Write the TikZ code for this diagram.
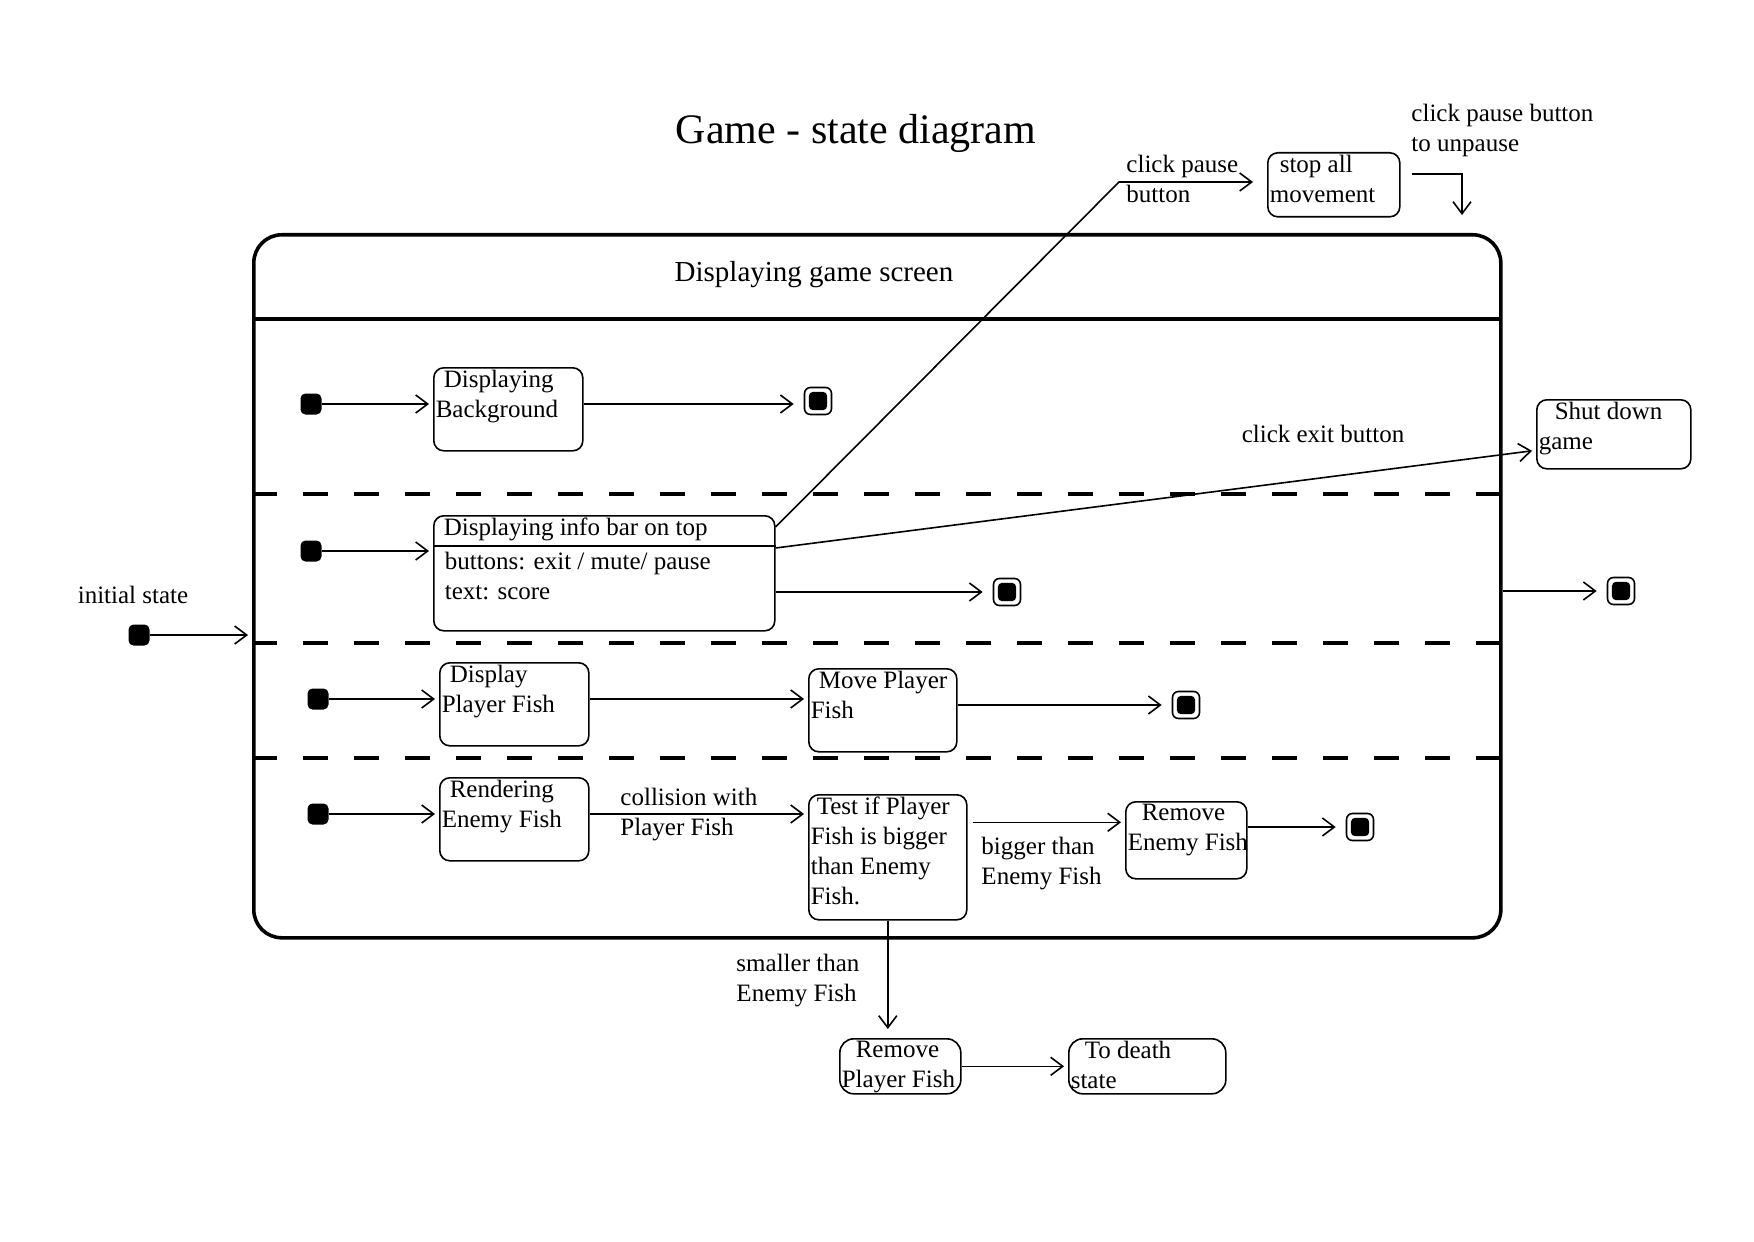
\documentclass[tikz,border=0pt]{standalone}
\usepackage{fontspec}
\setmainfont{Liberation Serif}
\usetikzlibrary{arrows.meta}

\tikzset{
  every node/.style={font=\fontsize{12.5}{15}\selectfont},
  bigbox/.style={draw,line width=1.8pt,rounded corners=14pt,anchor=north west,inner sep=0pt},
  stbox/.style={draw,rounded corners=5pt,anchor=north west,inner sep=0pt},
  sttext/.style={anchor=north west,align=left,inner sep=1pt},
  inist/.style={fill,rounded corners=2.5pt,minimum size=10.5pt,inner sep=0pt},
  finst/.style={draw,rounded corners=3pt,minimum size=13.5pt,inner sep=0pt,
    path picture={\fill[rounded corners=2pt] ([shift={(2.2pt,2.2pt)}]path picture bounding box.south west) rectangle ([shift={(-2.2pt,-2.2pt)}]path picture bounding box.north east);}},
  region/.style={line width=1.8pt,dash pattern=on 12.5pt off 13pt},
  trans/.style={->,shorten >=2pt}
}

\begin{document}
\begin{tikzpicture}[x=0.5pt,y=-0.5pt,line width=0.8pt,>={Straight Barb[length=6pt,width=9pt]}]
    \useasboundingbox (0,0) rectangle (1754,1241);

    \node[font=\fontsize{21}{25}\selectfont] (title) at (856,133) {Game - state diagram};

    % composite state
    \node[bigbox,minimum width=623.5pt,minimum height=351.5pt] (game) at (252,233) {};
    \node[font=\fontsize{14.5}{17}\selectfont] (game_lbl) at (814,275) {Displaying game screen};
    \draw[line width=1.8pt] (252,319) -- (1499,319);
    \draw[region] (252,494) -- (1499,494);
    \draw[region] (252,643) -- (1499,643);
    \draw[region] (252,758) -- (1499,758);

    \node[inist] (ini0) at (139,635) {};
    \node (ini0_lbl) at (133,595) {initial state};
    \node[finst] (fin_out) at (1621,591) {};

    % background
    \node[inist] (ini1) at (311,404) {};
    \node[stbox,minimum width=74.5pt,minimum height=41.5pt,label={[sttext]north west:{\hspace*{4pt}Displaying\\Background}}] (bg) at (433,367) {};
    \node[finst] (fin1) at (818,401) {};

    % info bar
    \node[inist] (ini2) at (311,551) {};
    \node[stbox,minimum width=170.5pt,minimum height=57.5pt,label={[sttext]north west:{\hspace*{4pt}Displaying info bar on top}}] (info) at (433,515) {};
    \draw ([yshift=-15.5pt]info.north west) -- ([yshift=-15.5pt]info.north east);
    \node[sttext] (info_txt) at ([xshift=4.5pt,yshift=-17pt]info.north west) {buttons: exit / mute/ pause\\text: score};
    \node[finst] (fin2) at (1007,592) {};

    \node[stbox,minimum width=66pt,minimum height=32pt,label={[sttext]north west:{\hspace*{5pt}stop all\\movement}}] (stop) at (1267,152) {};
    \node[stbox,minimum width=77pt,minimum height=34.5pt,label={[sttext]north west:{\hspace*{8pt}Shut down\\game}}] (shut) at (1536,399) {};
    \coordinate (pause_bend) at (1119,182);
    \coordinate (resume) at (1462,219);
    \node[anchor=west,align=left] (pause_lbl) at (1119,179) {click pause\\button};
    \node[anchor=west,align=left] (unpause_lbl) at (1404,130) {click pause button\\to unpause};
    \node (exit_lbl) at (1323,434) {click exit button};

    % player fish
    \node[inist] (ini3) at (318,699) {};
    \node[stbox,minimum width=74.5pt,minimum height=41.5pt,label={[sttext]north west:{\hspace*{4pt}Display\\Player Fish}}] (dpf) at (439,662) {};
    \node[stbox,minimum width=74pt,minimum height=41.5pt,label={[sttext]north west:{\hspace*{4pt}Move Player\\Fish}}] (mpf) at (808,668) {};
    \node[finst] (fin3) at (1186,705) {};

    % enemy fish
    \node[inist] (ini4) at (318,814) {};
    \node[stbox,minimum width=74.5pt,minimum height=41.5pt,label={[sttext]north west:{\hspace*{4pt}Rendering\\Enemy Fish}}] (rend) at (439,777) {};
    \node[stbox,minimum width=79pt,minimum height=62.5pt,label={[sttext]north west:{\hspace*{3pt}Test if Player\\Fish is bigger\\than Enemy\\Fish.}}] (test) at (808,794) {};
    \node[stbox,minimum width=60.5pt,minimum height=38.5pt,label={[sttext]north west:{\hspace*{7pt}Remove\\Enemy Fish}}] (rm_enemy) at (1125,801) {};
    \node[finst] (fin4) at (1360,827) {};
    \node[stbox,rounded corners=7pt,minimum width=60.5pt,minimum height=27.5pt,label={[sttext]north west:{\hspace*{7pt}Remove\\Player Fish}}] (rm_player) at (839,1038) {};
    \node[stbox,rounded corners=7pt,minimum width=78.5pt,minimum height=27.5pt,label={[sttext]north west:{\hspace*{7pt}To death\\state}}] (death) at (1068,1038) {};
    \node[anchor=west,align=left] (coll_lbl) at (613,815) {collision with\\Player Fish};
    \node[anchor=west,align=left] (bigger_lbl) at (974,864) {bigger than\\Enemy Fish};
    \node[anchor=west,align=left] (smaller_lbl) at (729,981) {smaller than\\Enemy Fish};
    \coordinate (big_start) at ([yshift=17.5pt]test.east);

    \draw[trans] (ini0) -- (ini0 -| game.west);
    \draw[trans] (ini1) -- (ini1 -| bg.west);
    \draw[trans,shorten >=5pt] (bg.east |- ini1) -- (ini1 -| fin1.west);
    \draw[trans] (ini2) -- (ini2 -| info.west);
    \draw[trans,shorten >=5pt] (info.east |- fin2) -- (fin2);
    \draw[trans,shorten >=7pt] ([yshift=-6pt]info.north east) -- (pause_bend) -- (pause_bend -| stop.west);
    \draw[trans,shorten <=5.5pt] ([yshift=5.5pt]stop.east) -| (resume);
    \draw[trans] ([yshift=-16.5pt]info.north east) -- ([yshift=-8pt]shut.west);
    \draw[trans,shorten >=5pt] (fin_out -| game.east) -- (fin_out);
    \draw[trans] (ini3) -- (ini3 -| dpf.west);
    \draw[trans] (dpf.east |- ini3) -- (mpf.west |- ini3);
    \draw[trans,shorten >=5pt] (mpf.east |- fin3) -- (fin3);
    \draw[trans] (ini4) -- (ini4 -| rend.west);
    \draw[trans] (rend.east |- ini4) -- (test.west |- ini4);
    \draw[trans,shorten <=2.5pt] (big_start) -- (big_start -| rm_enemy.west);
    \draw[trans,shorten >=5pt] (rm_enemy.east |- fin4) -- (fin4);
    \draw[trans,shorten >=4.5pt] (test.south) -- (test.south |- rm_player.north);
    \draw[trans] (rm_player) -- (death);
\end{tikzpicture}
\end{document}
